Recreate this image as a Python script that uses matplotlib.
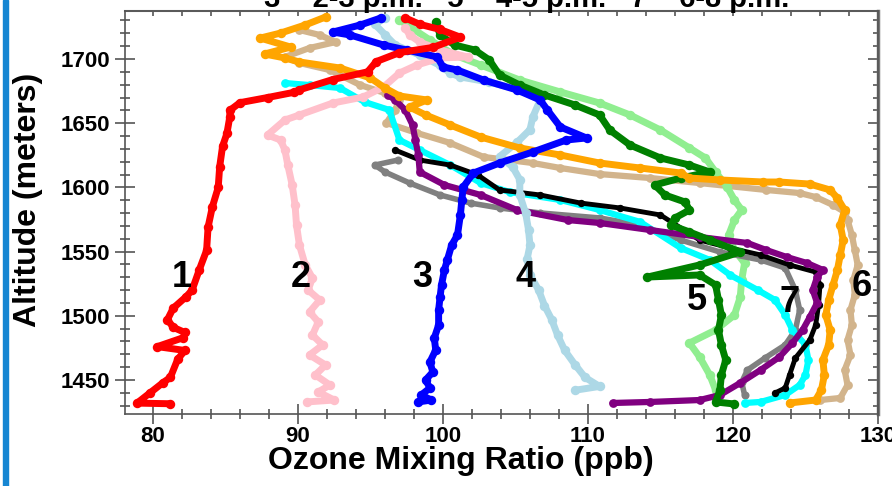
import matplotlib
matplotlib.use("Agg")
import matplotlib.pyplot as plt
from matplotlib.patches import Rectangle
from matplotlib.ticker import MultipleLocator

plt.rcParams['font.family'] = ['Liberation Sans', 'DejaVu Sans']
plt.rcParams['font.weight'] = 'bold'

# ozone profiles (ppb) vs altitude (m), one pair per sounding
red_oz = [81.2, 78.9, 79.8, 80.7, 81.2, 81.7, 82.2, 80.3, 82.1, 82.2, 81.4, 81.0, 81.4, 82.3, 82.7, 83.2, 83.7, 83.8, 84.1,
          84.5, 84.6, 84.8, 85.1, 85.3, 85.3, 86.0, 87.9, 89.7, 90.1, 92.4, 94.8, 95.4, 97.0, 99.3, 101.2, 99.8, 98.4, 97.4]
red_alt = [1431.5, 1432, 1440, 1448, 1452, 1466, 1473, 1476, 1483, 1487, 1491, 1497, 1506, 1515, 1520, 1536, 1551, 1569,
           1585, 1600, 1616, 1632, 1642, 1655, 1660, 1666, 1670, 1674, 1676, 1684, 1690, 1698, 1705, 1709, 1717, 1723,
           1727, 1732]

pink_oz = [90.6, 92.5, 91.4, 92.2, 91.2, 91.9, 90.8, 91.7, 91.0, 91.4, 90.8, 91.5, 90.7, 91.0, 90.5, 90.1, 89.9, 89.8,
           89.6, 89.3, 89.1, 88.8, 87.9, 89.1, 90.1, 92.4, 94.5, 95.9, 97.0, 98.2, 99.8, 101.7, 99.8, 98.4, 97.7, 97.4]
pink_alt = [1432.9, 1434.4, 1440.7, 1446.1, 1453.9, 1461.7, 1469.5, 1477.3, 1485.0, 1495.2, 1503.0, 1512.3, 1520.1,
            1529.4, 1539.6, 1555.1, 1570.7, 1586.3, 1601.9, 1617.4, 1629.1, 1636.9, 1640.8, 1652.5, 1656.4, 1665.7,
            1670.4, 1678.2, 1689.1, 1695.3, 1700.8, 1701.6, 1707.0, 1713.2, 1718.7, 1724.1]

blue_oz = [98.3, 99.2, 98.5, 99.1, 98.8, 99.3, 99.1, 99.5, 99.4, 99.7, 99.7, 99.8, 99.9, 100.1, 100.3, 100.6, 101.0,
           101.2, 101.3, 101.4, 102.1, 103.9, 106.2, 108.5, 109.9, 108.1, 107.2, 106.7, 105.1, 102.8, 101.0, 100.0,
           99.6, 97.5, 95.9, 93.6, 92.4, 94.3, 95.7]
blue_alt = [1432.9, 1434.4, 1438.3, 1443.8, 1450.0, 1456.2, 1464.0, 1473.4, 1482.7, 1492.8, 1504.5, 1514.6, 1524.0,
            1535.7, 1543.5, 1555.1, 1562.9, 1578.5, 1590.2, 1600.3, 1611.2, 1619.0, 1627.6, 1636.9, 1638.5, 1647.0,
            1660.3, 1668.1, 1675.9, 1683.6, 1691.4, 1693.8, 1701.6, 1707.0, 1710.9, 1718.7, 1721.0, 1726.5, 1731.9]

ltblue_oz = [109.1, 110.8, 109.8, 109.1, 108.4, 107.9, 107.5, 107.0, 106.6, 106.0, 105.8, 106.0, 105.9, 105.7, 105.3,
             105.3, 104.8, 103.9, 105.1, 106.0, 106.2, 106.7, 105.3, 103.2, 101.2, 100.5, 99.8, 98.4, 96.7, 96.0,
             95.3, 96.0]
ltblue_alt = [1442, 1445, 1452, 1462, 1473, 1485, 1497, 1508, 1520, 1532, 1544, 1555, 1567, 1580, 1594, 1606, 1616,
              1624, 1635, 1645, 1655, 1668, 1676, 1682, 1686, 1689, 1695, 1703, 1711, 1719, 1727, 1732]

green_oz = [99.5, 99.8, 100.8, 102.2, 103.2, 103.9, 105.3, 107.0, 109.1, 110.8, 111.5, 112.9, 115.0, 117.0, 118.4,
            116.4, 114.6, 115.3, 116.7, 117.0, 116.0, 115.7, 117.0, 118.4, 120.5, 117.7, 114.1, 117.7, 118.8, 119.0,
            119.2, 119.0, 119.2, 119.5, 119.2, 119.1, 118.8, 120.1]
green_alt = [1728.8, 1718.7, 1710.9, 1707.0, 1699.2, 1687.5, 1679.7, 1672.0, 1664.2, 1656.4, 1644.7, 1633.0, 1622.9,
             1617.4, 1612.0, 1607.3, 1601.9, 1594.1, 1588.6, 1582.4, 1576.2, 1570.7, 1565.3, 1559.0, 1549.7, 1539.6,
             1530.2, 1531.8, 1524.0, 1512.3, 1500.6, 1488.9, 1477.3, 1465.6, 1453.9, 1442.2, 1432.9, 1431.3]

ltgreen_oz = [97.0, 99.1, 100.8, 102.6, 105.3, 108.1, 110.8, 112.9, 115.0, 117.0, 118.1, 118.8, 119.6, 120.1, 120.6,
              120.1, 119.7, 120.1, 120.8, 120.6, 120.5, 120.1, 118.8, 117.0, 117.7, 118.4, 118.8]
ltgreen_alt = [1730.4, 1714.8, 1703.1, 1695.3, 1683.6, 1674.3, 1665.7, 1656.4, 1644.7, 1630.7, 1622.9, 1612.0, 1600.3,
               1590.2, 1582.4, 1574.6, 1562.9, 1551.2, 1541.1, 1527.9, 1514.6, 1500.6, 1488.9, 1478.8, 1467.9, 1453.9,
               1442.2]

orange_oz = [123.9, 125.7, 126.1, 126.3, 126.2, 126.6, 126.7, 126.4, 126.6, 126.9, 127.2, 127.4, 127.6, 127.4, 127.7,
             127.2, 126.7, 125.3, 123.2, 122.1, 119.1, 117.0, 116.4, 113.6, 110.8, 108.1, 105.3, 102.6, 100.5, 98.8,
             97.7, 98.9, 97.0, 96.0, 95.0, 92.9, 90.1, 89.1, 87.7, 89.5, 87.4, 88.8, 90.5, 91.9]
orange_alt = [1432.1, 1434.4, 1442.2, 1453.9, 1465.6, 1477.3, 1488.9, 1500.6, 1512.3, 1524.0, 1535.7, 1547.4, 1559.0,
              1570.7, 1582.4, 1591.7, 1598.0, 1602.6, 1604.2, 1604.2, 1605.8, 1607.3, 1611.2, 1615.1, 1619.0, 1625.2,
              1630.7, 1639.2, 1648.6, 1656.4, 1662.6, 1668.1, 1671.2, 1677.4, 1685.2, 1693.0, 1697.7, 1700.8, 1703.9,
              1709.3, 1716.3, 1720.2, 1726.5, 1732.7]

tan_oz = [126.0, 127.4, 127.9, 127.7, 128.1, 127.9, 128.2, 128.1, 128.4, 128.3, 128.6, 128.4, 128.2, 127.9, 127.7,
          126.9, 125.7, 124.6, 122.3, 117.7, 114.3, 110.8, 108.1, 106.2, 102.8, 100.5, 98.2, 96.1, 96.7, 97.0, 96.0,
          94.3, 92.2, 90.1, 89.1, 90.8, 92.6, 91.5, 90.1]
tan_alt = [1434.4, 1436.0, 1446.1, 1457.8, 1469.5, 1481.2, 1492.8, 1504.5, 1516.2, 1527.9, 1539.6, 1551.2, 1562.9,
           1574.6, 1580.8, 1586.3, 1592.5, 1595.6, 1598.0, 1603.4, 1607.3, 1610.4, 1615.1, 1619.0, 1623.7, 1634.6,
           1642.4, 1650.2, 1660.3, 1668.1, 1673.5, 1679.7, 1691.4, 1696.9, 1701.6, 1708.6, 1713.2, 1718.7, 1722.6]

purple_oz = [111.7, 114.3, 117.7, 119.1, 120.5, 121.9, 123.2, 124.1, 124.8, 125.3, 125.8, 125.5, 125.8, 126.2, 125.1,
             123.7, 122.3, 121.0, 117.7, 114.3, 110.8, 108.6, 105.1, 102.6, 100.1, 98.4, 98.3, 98.1, 97.9, 97.4, 96.7,
             96.2]
purple_alt = [1432.1, 1432.9, 1434.4, 1438.3, 1447.7, 1457.8, 1467.9, 1478.8, 1488.9, 1499.1, 1510.0, 1520.1, 1530.2,
              1535.7, 1541.1, 1545.8, 1551.2, 1556.7, 1561.4, 1566.8, 1572.3, 1574.6, 1582.4, 1594.1, 1601.9, 1612.0,
              1625.2, 1636.9, 1648.6, 1660.3, 1668.1, 1672.0]

black_oz = [96.7, 98.4, 100.5, 102.4, 103.9, 106.7, 109.5, 112.2, 115.0, 117.7, 119.8, 121.9, 123.9, 125.7, 126.0,
            125.9, 125.7, 125.3, 124.3, 123.9, 123.6, 122.9]
black_alt = [1629.1, 1621.3, 1617.4, 1609.7, 1598.0, 1594.1, 1587.8, 1584.0, 1578.5, 1559.0, 1552.8, 1547.4, 1539.6,
             1534.1, 1524.0, 1508.4, 1492.8, 1481.2, 1467.1, 1453.9, 1443.8, 1439.9]

gray_oz = [96.9, 95.3, 96.0, 97.7, 99.8, 101.9, 103.9, 106.7, 110.8, 113.6, 116.4, 119.1, 121.9, 123.6, 124.3, 124.6,
           124.3, 123.6, 122.2, 121.0, 120.6, 120.8]
gray_alt = [1621.3, 1617.4, 1612.0, 1603.4, 1594.1, 1587.8, 1584.0, 1580.1, 1576.2, 1570.7, 1559.0, 1549.7, 1543.5,
            1537.2, 1520.1, 1504.5, 1488.9, 1477.3, 1467.1, 1457.8, 1448.4, 1438.3]

cyan_oz = [89.1, 90.8, 92.9, 94.6, 96.3, 97.0, 98.4, 100.5, 102.6, 104.6, 108.1, 110.8, 113.6, 116.4, 118.4, 119.8,
           121.7, 122.9, 123.6, 124.1, 125.0, 125.2, 125.0, 124.6, 123.6, 121.9, 120.8]
cyan_alt = [1681.3, 1679.7, 1677.4, 1666.5, 1660.3, 1636.9, 1629.1, 1617.4, 1603.4, 1596.4, 1590.2, 1582.4, 1573.1,
            1552.8, 1543.5, 1531.8, 1520.1, 1512.3, 1500.6, 1488.9, 1477.3, 1465.6, 1453.9, 1446.1, 1438.3, 1432.9,
            1432.1]

# drawing order: first entries end up underneath
profiles = [
    (tan_oz, tan_alt, 'tan', 4.5),
    (ltgreen_oz, ltgreen_alt, 'lightgreen', 5.0),
    (gray_oz, gray_alt, 'gray', 4.0),
    (cyan_oz, cyan_alt, 'cyan', 4.5),
    (black_oz, black_alt, 'black', 3.5),
    (purple_oz, purple_alt, 'purple', 4.5),
    (ltblue_oz, ltblue_alt, 'lightblue', 5.0),
    (pink_oz, pink_alt, 'pink', 5.0),
    (green_oz, green_alt, 'green', 5.0),
    (orange_oz, orange_alt, 'orange', 5.0),
    (blue_oz, blue_alt, 'blue', 5.0),
    (red_oz, red_alt, 'red', 5.0),
]

# sounding numbers written next to the profiles
tag_text = ['1', '2', '3', '4', '5', '7', '6']
tag_oz = [82.0, 90.2, 98.6, 105.7, 117.5, 123.9, 128.9]
tag_alt = [1530.2, 1530.2, 1530.2, 1530.2, 1512.3, 1510.7, 1523.2]

fig = plt.figure(figsize=(8.92, 4.86), dpi=100)
ax = fig.add_axes([0.1401, 0.1481, 0.8442, 0.8293])

for oz, alt, c, w in profiles:
    ax.plot(oz, alt, color=c, lw=w, marker='o', ms=w + 1.8, mew=0,
            solid_joinstyle='round', solid_capstyle='round')

for t, x, y in zip(tag_text, tag_oz, tag_alt):
    ax.text(x, y, t, fontsize=26, fontweight='bold', ha='center', va='center')

ax.set_xlim(78.07, 130.0)
ax.set_ylim(1423.5, 1737.4)
ax.xaxis.set_major_locator(MultipleLocator(10))
ax.xaxis.set_minor_locator(MultipleLocator(2))
ax.yaxis.set_major_locator(MultipleLocator(50))
ax.yaxis.set_minor_locator(MultipleLocator(10))

ax.tick_params(axis='both', which='both', direction='inout', top=False, right=False, color='#555555', width=1.2)
ax.tick_params(axis='both', which='major', length=15, labelsize=16)
ax.tick_params(axis='both', which='minor', length=7)
ax.tick_params(axis='x', which='major', pad=1)
ax.tick_params(axis='y', which='major', pad=3)
for lab in ax.get_xticklabels() + ax.get_yticklabels():
    lab.set_fontweight('bold')

# inward ticks on the top and right edges
top = ax.secondary_xaxis('top')
top.xaxis.set_major_locator(MultipleLocator(10))
top.xaxis.set_minor_locator(MultipleLocator(2))
top.tick_params(which='both', direction='in', length=3.5, labeltop=False, color='#555555', width=1.2)
right = ax.secondary_yaxis('right')
right.yaxis.set_major_locator(MultipleLocator(50))
right.yaxis.set_minor_locator(MultipleLocator(10))
right.tick_params(which='major', direction='in', length=7, labelright=False, color='#555555', width=1.2)
right.tick_params(which='minor', direction='in', length=3.5, color='#555555', width=1.2)
for s in ax.spines.values():
    s.set_color('#555555')
    s.set_linewidth(1.2)
right.spines['right'].set_color('#777777')
right.spines['right'].set_linewidth(2.5)
top.spines['top'].set_color('#777777')
top.spines['top'].set_linewidth(1.5)

ax.set_xlabel('Ozone Mixing Ratio (ppb)', fontsize=23, fontweight='bold')
ax.xaxis.set_label_coords(0.446, -0.079)
ax.set_ylabel('Altitude (meters)', fontsize=23, fontweight='bold')
ax.yaxis.set_label_coords(-0.109, 0.531)

# time legend running off the top edge
fig.text(0.591, 0.9856, '3 \u2013 2-3 p.m.   5 \u2013 4-5 p.m.   7 \u2013 6-8 p.m.',
         fontsize=21, fontweight='bold', ha='center', va='baseline')

# slide accent bar on the left
fig.patches.append(Rectangle((3 / 892, 0), 4.5 / 892, 1, transform=fig.transFigure,
                             color='#1686d2', zorder=0))

fig.savefig('out.png', dpi=100)
